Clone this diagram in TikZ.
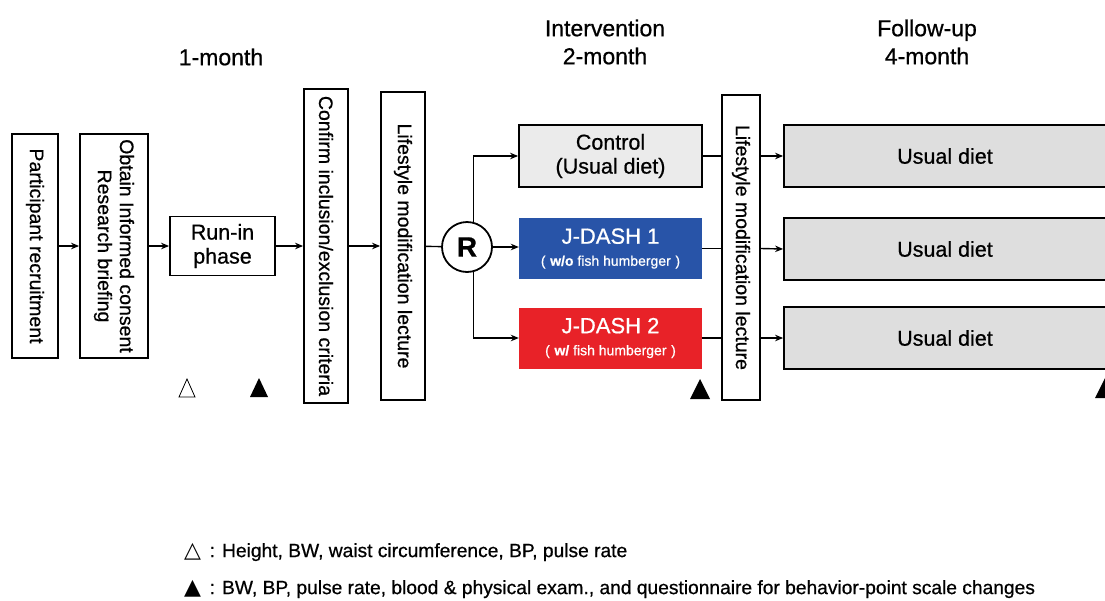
\documentclass[tikz,border=0pt]{standalone}
\usepackage{fontspec}
\setmainfont{Liberation Sans}[FakeBold=0.7]
\newfontfamily\symfont{DejaVu Sans}
\usetikzlibrary{arrows.meta}
\definecolor{jblue}{RGB}{40,84,168}
\definecolor{jred}{RGB}{232,34,40}
\definecolor{ctrlgray}{RGB}{235,235,235}
\definecolor{udgray}{RGB}{222,222,222}
\tikzset{
  box/.style={draw=black, line width=1.8pt, inner sep=0pt, align=center},
  vbox/.style={box, rotate=-90, font=\fontsize{19.5}{22}\selectfont},
  hbox/.style={box, font=\fontsize{21.5}{24}\selectfont},
  colbox/.style={inner sep=0pt, align=center, text=white, font=\fontsize{22}{24}\selectfont},
  conn/.style={line width=1.4pt},
  arr/.style={conn, -{Stealth[length=8pt,width=6.5pt]}},
  hdr/.style={font=\fontsize{23}{28}\selectfont, align=center},
  legend/.style={anchor=west, inner sep=0pt, font=\fontsize{19.2}{22}\selectfont},
}
\begin{document}
\begin{tikzpicture}[x=1pt,y=-1pt]
\useasboundingbox (0,0) rectangle (1105,600);
% headers
\node[hdr] (h1) at (221,57) {1-month};
\node[hdr] (h2) at (605,42) {Intervention\\2-month};
\node[hdr] (h3) at (927,42) {Follow-up\\4-month};
% main row
\node[vbox, minimum width=224pt, minimum height=46pt] (pr) at (35,246) {Participant recruitment};
\node[vbox, minimum width=224pt, minimum height=68pt] (ic) at (114,246) {Obtain Informed consent\\Research briefing};
\node[hbox, minimum width=105pt, minimum height=59pt] (run) at (222.5,246) {Run-in\\phase};
\node[vbox, minimum width=314pt, minimum height=44pt] (cf) at (326,246) {Confirm inclusion/exclusion criteria};
\node[vbox, minimum width=308pt, minimum height=44pt] (lf1) at (403,246) {Lifestyle modification lecture};
\node[circle, draw=black, line width=1.8pt, minimum size=50pt, inner sep=0pt, font=\fontsize{28}{30}\selectfont\bfseries] (R) at (467,247) {R};
% arms
\node[hbox, fill=ctrlgray, minimum width=183pt, minimum height=62pt] (ctrl) at (610.5,156) {Control\\(Usual diet)};
\node[colbox, fill=jblue, minimum width=183pt, minimum height=61pt] (j1) at (610.5,248.5) {J-DASH 1\\[-2pt]{\fontsize{14}{16}\selectfont (\,\,\textbf{w/o} fish humberger\,\,)}};
\node[colbox, fill=jred, minimum width=183pt, minimum height=61pt] (j2) at (610.5,338) {J-DASH 2\\[-2pt]{\fontsize{14}{16}\selectfont (\,\,\textbf{w/} fish humberger\,\,)}};
\node[vbox, minimum width=305pt, minimum height=38pt] (lf2) at (741,247.5) {Lifestyle modification lecture};
% follow-up
\node[hbox, fill=udgray, minimum width=330pt, minimum height=62pt] (u1) at (949,156) {};
\node[hbox, fill=udgray, minimum width=330pt, minimum height=62pt] (u2) at (949,249) {};
\node[hbox, fill=udgray, minimum width=330pt, minimum height=62pt] (u3) at (949,338) {};
\node[font=\fontsize{21.5}{24}\selectfont] (t1) at (945,156) {Usual diet};
\node[font=\fontsize{21.5}{24}\selectfont] (t2) at (945,249) {Usual diet};
\node[font=\fontsize{21.5}{24}\selectfont] (t3) at (945,338) {Usual diet};
% connectors
\draw[arr] (pr) -- (ic);
\draw[arr] (ic) -- (run);
\draw[arr] (run) -- (cf);
\draw[arr] (cf) -- (lf1);
\draw[conn] (lf1) -- (R);
\draw[arr] (R.75) |- (ctrl.west);
\draw[arr] (R.-75) |- (j2.west);
\draw[arr] (R.east) -- (R.east -| j1.west);
\draw[conn] (ctrl.east) -- (ctrl.east -| lf2.south);
\draw[arr] (ctrl.east -| lf2.north) -- (u1.west);
\draw[conn] (j1.east) -- (j1.east -| lf2.south);
\draw[arr] (j1.east -| lf2.north) -- (u2.west);
\draw[conn] (j2.east) -- (j2.east -| lf2.south);
\draw[arr] (j2.east -| lf2.north) -- (u3.west);
% measurement markers
\draw[line width=0.8pt, fill=white] (179,397) -- (195,397) -- (187,379) -- cycle;
\fill (250,397) -- (268,397) -- (259,378) -- cycle;
\fill (690,399) -- (710,399) -- (700,379) -- cycle;
\fill (1095,398) -- (1115,398) -- (1105,378) -- cycle;
% legend
\node[legend] (lg1) at (184,552) {{\symfont\fontsize{22}{22}\selectfont △} \,: Height, BW, waist circumference, BP, pulse rate};
\node[legend] (lg2) at (184,589) {{\symfont\fontsize{22}{22}\selectfont ▲} \,: BW, BP, pulse rate, blood \& physical exam., and questionnaire for behavior-point scale changes};
\end{tikzpicture}
\end{document}
